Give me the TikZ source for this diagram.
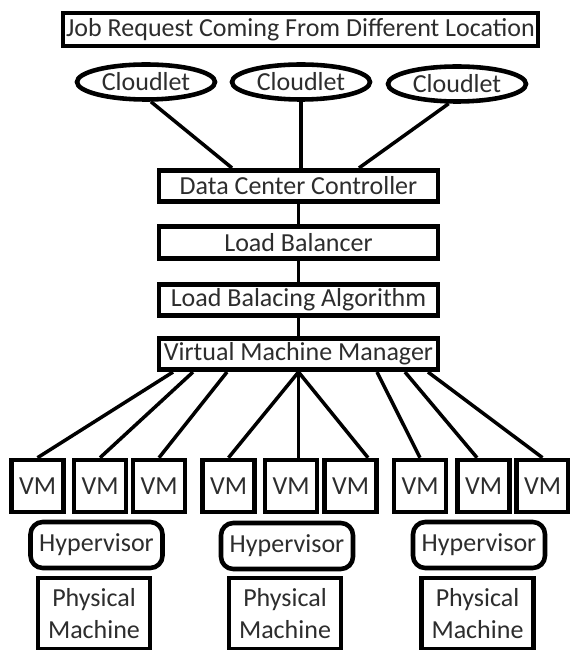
\documentclass[tikz,border=0pt]{standalone}
\usepackage{fontspec}
\setmainfont{Carlito}
\usepackage{tikz}
\usetikzlibrary{calc,shapes.geometric}
\definecolor{flowInk}{RGB}{0,0,0}
\definecolor{flowText}{RGB}{45,45,45}
\tikzset{
  stage/.style={draw=flowInk, line width=2.6pt, fill=white, inner sep=0pt,
    minimum width=5.58cm, minimum height=0.63cm, align=center, text=flowText,
    font=\fontsize{14.8}{17}\selectfont},
  cloudlet/.style={ellipse, draw=flowInk, line width=2.6pt, fill=white, inner sep=0pt,
    minimum width=2.76cm, minimum height=0.70cm, text=flowText, font=\fontsize{14.8}{17}\selectfont},
  vmbox/.style={draw=flowInk, line width=2.6pt, fill=white, inner sep=0pt,
    minimum width=1.04cm, minimum height=1.04cm, text=flowText, font=\fontsize{14.8}{17}\selectfont},
  hyper/.style={draw=flowInk, line width=2.6pt, rounded corners=7pt, fill=white, inner sep=0pt,
    minimum width=2.64cm, minimum height=0.92cm, text=flowText, font=\fontsize{14.8}{17}\selectfont},
  machine/.style={draw=flowInk, line width=2.6pt, fill=white, inner sep=0pt,
    minimum width=2.24cm, minimum height=1.42cm, align=center, text=flowText,
    font=\fontsize{14.8}{18}\selectfont},
  link/.style={draw=flowInk, line width=2pt}
}
\begin{document}
\begin{tikzpicture}[x=1cm,y=1cm]
    \useasboundingbox (0,0) rectangle (11.38,-13.0);
    \node[stage, minimum width=9.5cm, minimum height=0.66cm] (job) at (6.01,-0.59) {Job Request Coming From Different Location};
    \node[cloudlet] (cl1) at (2.92,-1.64) {Cloudlet};
    \node[cloudlet] (cl2) at (6.02,-1.64) {Cloudlet};
    \node[cloudlet] (cl3) at (9.14,-1.68) {Cloudlet};
    \node[stage] (dcc) at (5.97,-3.72) {Data Center Controller};
    \node[stage] (lb) at (5.97,-4.85) {Load Balancer};
    \node[stage] (lba) at (5.97,-6.00) {Load Balacing Algorithm};
    \node[stage] (vmm) at (5.97,-7.08) {Virtual Machine Manager};
    \draw[link] (cl1.-76) -- ($(dcc.north)+(-1.33,0)$);
    \draw[link] (cl2.south) -- (cl2.south |- dcc.north);
    \draw[link] (cl3.-113) -- ($(dcc.north)+(1.21,0)$);
    \draw[link] (dcc.south) -- (lb.north);
    \draw[link] (lb.south) -- (lba.north);
    \draw[link] (lba.south) -- (vmm.north);
    \node[vmbox] (vm1) at (0.75,-9.72) {VM};
    \node[vmbox] (vm2) at (2.00,-9.72) {VM};
    \node[vmbox] (vm3) at (3.18,-9.72) {VM};
    \node[vmbox] (vm4) at (4.57,-9.72) {VM};
    \node[vmbox] (vm5) at (5.82,-9.72) {VM};
    \node[vmbox] (vm6) at (7.01,-9.72) {VM};
    \node[vmbox] (vm7) at (8.40,-9.72) {VM};
    \node[vmbox] (vm8) at (9.67,-9.72) {VM};
    \node[vmbox] (vm9) at (10.85,-9.72) {VM};
    \draw[link] ($(vmm.south)+(-2.51,0)$) -- (vm1.north);
    \draw[link] ($(vmm.south)+(-2.11,0)$) -- (vm2.north);
    \draw[link] ($(vmm.south)+(-1.43,0)$) -- (vm3.north);
    \draw[link] (vmm.south) -- (vm4.north);
    \draw[link] (vmm.south) -- (vmm.south |- vm5.north);
    \draw[link] (vmm.south) -- ($(vm6.north)+(0.35,0)$);
    \draw[link] ($(vmm.south)+(1.57,0)$) -- (vm7.north);
    \draw[link] ($(vmm.south)+(2.13,0)$) -- ($(vm8.north)+(-0.13,0)$);
    \draw[link] ($(vmm.south)+(2.59,0)$) -- (vm9.north);
    \node[hyper] (hv1) at (1.93,-10.90) {Hypervisor};
    \node[hyper] (hv2) at (5.74,-10.92) {Hypervisor};
    \node[hyper] (hv3) at (9.58,-10.90) {Hypervisor};
    \node[machine] (pm1) at (1.88,-12.27) {Physical\\Machine};
    \node[machine] (pm2) at (5.70,-12.27) {Physical\\Machine};
    \node[machine] (pm3) at (9.55,-12.27) {Physical\\Machine};
  \end{tikzpicture}
\end{document}
